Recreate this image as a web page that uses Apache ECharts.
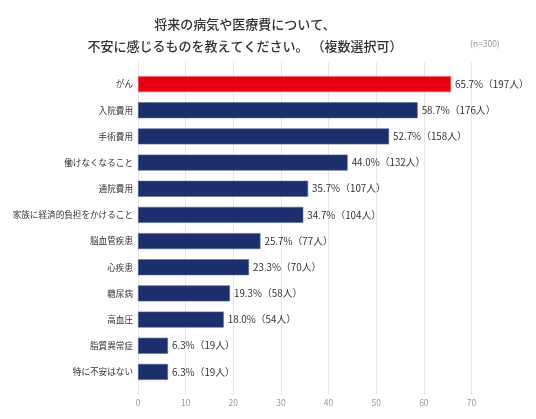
<!DOCTYPE html>
<html>
<head>
<meta charset="utf-8">
<script src="https://cdn.jsdelivr.net/npm/echarts@6/dist/echarts.min.js"></script>
<style>
html,body{margin:0;padding:0;background:#fff;}
#c{width:536px;height:419px;}
</style>
</head>
<body>
<div id="c"></div>
<script>
var categories = ['がん','入院費用','手術費用','働けなくなること','通院費用','家族に経済的負担をかけること','脳血管疾患','心疾患','糖尿病','高血圧','脂質異常症','特に不安はない'];
var percentValues = [65.7, 58.7, 52.7, 44.0, 35.7, 34.7, 25.7, 23.3, 19.3, 18.0, 6.3, 6.3];
var peopleCounts = [197, 176, 158, 132, 107, 104, 77, 70, 58, 54, 19, 19];
var xTicks = [0, 10, 20, 30, 40, 50, 60, 70];
var titleLines = ['将来の病気や医療費について、', '不安に感じるものを教えてください。 （複数選択可）'];
var sampleNote = '(n=300)';

var FONT = '"Noto Sans CJK JP", "Noto Sans", sans-serif';
var chart = echarts.init(document.getElementById('c'), null, {renderer: 'canvas'});

var barData = percentValues.map(function (v, i) {
  return {
    value: v,
    itemStyle: i === 0 ? {color: '#e60012', borderColor: '#f05a64'} : {color: '#1c2e6b', borderColor: '#5a6a9e'}
  };
});

chart.setOption({
  backgroundColor: '#ffffff',
  animation: false,
  textStyle: {fontFamily: FONT},
  title: [{
    text: titleLines.join('\n'),
    left: 240,
    top: 8,
    textAlign: 'center',
    textStyle: {fontFamily: FONT, fontSize: 13, fontWeight: 500, color: '#333', lineHeight: 22}
  }, {
    text: sampleNote,
    left: 480,
    top: 35,
    textAlign: 'center',
    textStyle: {fontFamily: FONT, fontSize: 8.5, fontWeight: 'normal', color: '#999'}
  }],
  grid: [
    {left: 138, right: 64.5, top: 71, bottom: 34},
    {left: 138, right: 64.5, top: 62, bottom: 24}
  ],
  xAxis: [
    {gridIndex: 0, type: 'value', min: xTicks[0], max: xTicks[xTicks.length - 1], interval: 10, show: false},
    {gridIndex: 1, type: 'value', min: xTicks[0], max: xTicks[xTicks.length - 1], interval: 10,
      axisLine: {show: false}, axisTick: {show: false},
      splitLine: {show: true, lineStyle: {color: '#e6e6e6', width: 1}},
      axisLabel: {color: '#999', fontSize: 8.5, margin: 4, fontFamily: FONT}}
  ],
  yAxis: [
    {gridIndex: 0, type: 'category', data: categories, inverse: true,
      axisLine: {show: false}, axisTick: {show: false}, splitLine: {show: false},
      axisLabel: {color: '#333', fontSize: 8.6, margin: 5, fontFamily: FONT}},
    {gridIndex: 1, type: 'value', min: 0, max: 1, show: false}
  ],
  series: [{
    type: 'bar',
    xAxisIndex: 0,
    yAxisIndex: 0,
    data: barData,
    barWidth: 16,
    itemStyle: {borderWidth: 0.6},
    label: {
      show: true,
      position: 'right',
      distance: 4,
      color: '#333',
      fontSize: 9.8,
      fontFamily: FONT,
      formatter: function (p) {
        return percentValues[p.dataIndex].toFixed(1) + '%（' + peopleCounts[p.dataIndex] + '人）';
      }
    }
  }]
});
</script>
</body>
</html>
